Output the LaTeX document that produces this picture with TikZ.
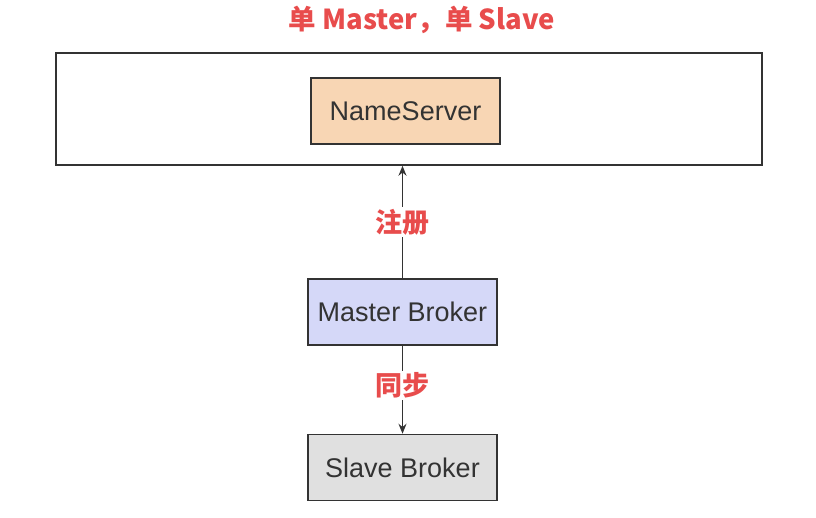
\documentclass[tikz,border=0pt]{standalone}
\usepackage{fontspec}
\setmainfont{Liberation Sans}
\newfontfamily\cjk{Noto Sans CJK SC}
\usetikzlibrary{arrows.meta}
\definecolor{redtxt}{HTML}{E84C4C}
\definecolor{edge}{HTML}{333333}
\definecolor{nsfill}{HTML}{F8D6B4}
\definecolor{mbfill}{HTML}{D5D8F8}
\definecolor{sbfill}{HTML}{E0E0E0}
\tikzset{
  box/.style={draw=edge, line width=1.5pt, minimum width=189pt, minimum height=66pt, inner sep=0pt, text=edge, font=\fontsize{27}{29}\selectfont},
  lbl/.style={text=redtxt, font=\cjk\bfseries\fontsize{27}{29}\selectfont, fill=white, inner sep=2pt},
  conn/.style={draw=edge, line width=1.5pt, -{Stealth[length=10pt,width=8pt]}}
}
\begin{document}
\begin{tikzpicture}[x=1pt,y=-1pt]
\useasboundingbox (0,0) rectangle (816,518);
\node[text=redtxt, font=\cjk\bfseries\fontsize{27.5}{29}\selectfont] (title) at (422,20) {单 Master，单 Slave};
\node[draw=edge, line width=1.5pt, minimum width=706pt, minimum height=112pt, inner sep=0pt] (outer) at (409,109) {};
\node[box, fill=nsfill] (ns) at (405.5,111) {NameServer};
\node[box, fill=mbfill] (mb) at (402.5,312) {Master Broker};
\node[box, fill=sbfill] (sb) at (402.5,467.5) {Slave Broker};
\draw[conn] (mb.north) -- (mb.north |- outer.south) node[lbl, pos=0.5] (reg) {注册};
\draw[conn] (mb.south) -- (sb.north) node[lbl, pos=0.45] (sync) {同步};
\end{tikzpicture}
\end{document}
